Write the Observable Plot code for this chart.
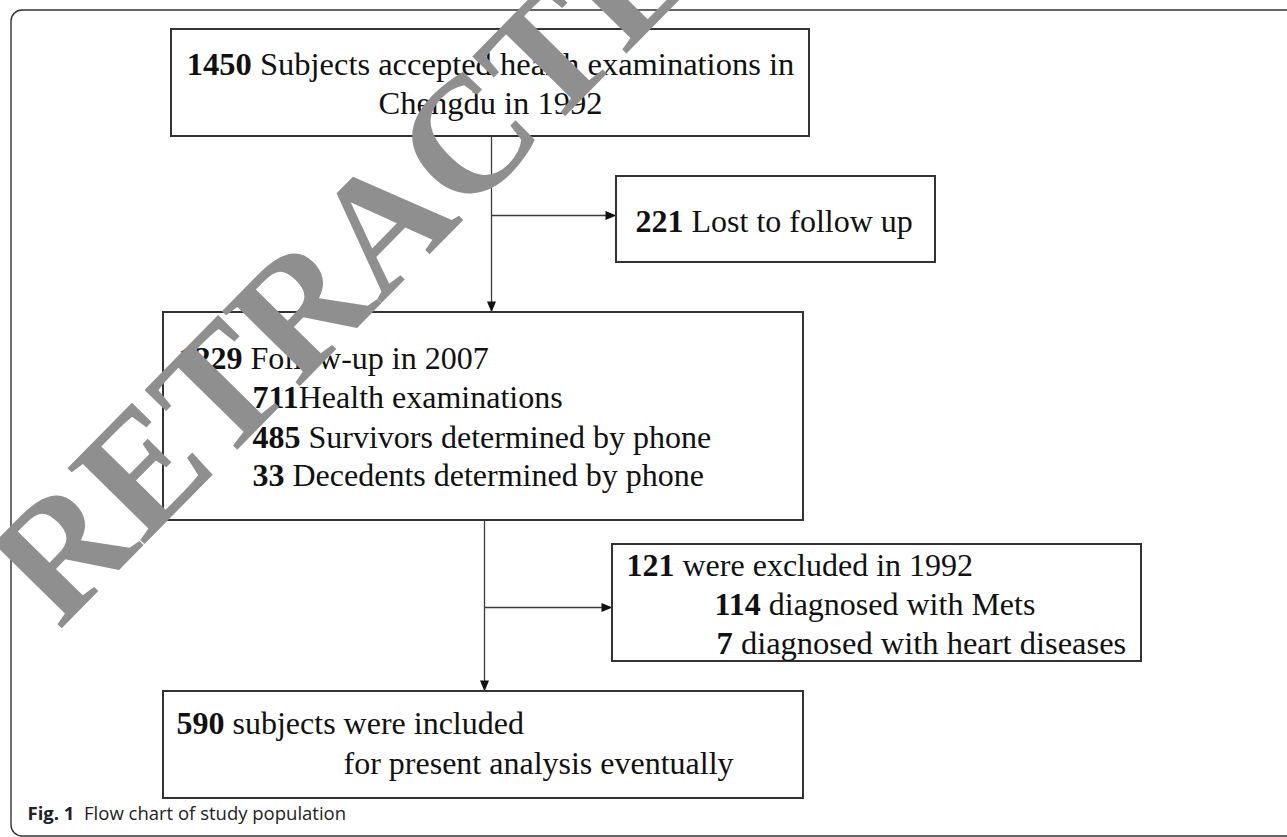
<!DOCTYPE html>
<html>
<head>
<meta charset="utf-8">
<script src="https://cdn.jsdelivr.net/npm/d3@7"></script>
<script src="https://cdn.jsdelivr.net/npm/@observablehq/plot@0.6"></script>
<style>
  html, body { margin: 0; padding: 0; background: #fff; }
  #chart { width: 1287px; height: 837px; overflow: hidden; }
  #chart svg { overflow: hidden; }
</style>
</head>
<body>
<div id="chart"></div>
<script>
// ---------------- data (text content of the flow chart) ----------------
const counts  = ["1450", "", "221", "1229", "711", "485", "33", "121", "114", "7", "590", ""];
const phrases = [
  " Subjects accepted health examinations in",
  "Chengdu in 1992",
  " Lost to follow up",
  " Follow-up in 2007",
  "Health examinations",
  " Survivors determined by phone",
  " Decedents determined by phone",
  " were excluded in 1992",
  " diagnosed with Mets",
  " diagnosed with heart diseases",
  " subjects were included",
  "for present analysis eventually"
];
const captionLabel = "Fig. 1";
const captionText  = "  Flow chart of study population";
const watermarkText = "RETRACTED";

// ---------------- layout (diagram coordinates) ----------------
const boxX1 = [171, 616, 163, 612, 163];
const boxX2 = [809, 935, 803, 1141, 803];
const boxY1 = [29, 176, 312, 544, 691];
const boxY2 = [136, 262, 520, 661, 798];

const lineX = [490, 490, 635, 178, 252, 252, 252, 626, 714, 716, 176, 343];
const lineY = [74, 113, 231, 368, 407, 447, 485, 575, 614, 653, 733, 773];
const lineAlign = ["middle", "middle", "start", "start", "start", "start", "start", "start", "start", "start", "start", "start"];
const lineSize = [32.5, 32.5, 32, 32, 32, 32, 32, 32, 32, 32.5, 32, 32];

const segX1 = [491, 491, 484, 484];
const segY1 = [136, 215, 520, 607];
const segX2 = [491, 606, 484, 602];
const segY2 = [304, 215, 683, 607];

const tipX = [491, 616, 612, 484];
const tipY = [312, 215, 607, 691];
const tipDir = ["down", "right", "right", "down"];

// ---------------- build tables ----------------
const boxes = boxX1.map((x1, i) => ({x1, x2: boxX2[i], y1: boxY1[i], y2: boxY2[i]}));
const lines = counts.map((c, i) => ({bold: c, rest: phrases[i], x: lineX[i], y: lineY[i], anchor: lineAlign[i], size: lineSize[i]}));
const segs = segX1.map((x1, i) => ({x1, y1: segY1[i], x2: segX2[i], y2: segY2[i]}));
const tips = tipX.map((x, i) => ({x, y: tipY[i], dir: tipDir[i]}));
const frame = [{x1: 11, x2: 1310, y1: 10, y2: 836}];
const watermark = [{x: 384, y: 224, t: watermarkText}];
const caption = [{x: 27, y: 819, bold: captionLabel, rest: captionText}];

const tipDown  = {draw(c) { c.moveTo(0, 0); c.lineTo(-4.5, -11); c.lineTo(4.5, -11); c.closePath(); }};
const tipRight = {draw(c) { c.moveTo(0, 0); c.lineTo(-11, -4.5); c.lineTo(-11, 4.5); c.closePath(); }};

const serif = "'Liberation Serif', 'Times New Roman', serif";

const textMarks = [...new Set(lines.map(d => d.anchor + "|" + d.size))].map(key => {
  const [anchor, size] = key.split("|");
  return Plot.text(lines.filter(d => d.anchor === anchor && d.size === +size), {
    x: "x", y: "y", text: d => d.bold + d.rest, textAnchor: anchor, lineAnchor: "bottom",
    fontSize: +size, fontFamily: serif, fill: "#111"
  });
});

const svg = Plot.plot({
  width: 1287,
  height: 837,
  margin: 0,
  x: {domain: [0, 1287], range: [0, 1287], axis: null},
  y: {domain: [0, 837], range: [0, 837], axis: null},
  style: {background: "white"},
  marks: [
    Plot.rect(frame, {x1: "x1", x2: "x2", y1: "y1", y2: "y2", rx: 11, fill: "none", stroke: "#333", strokeWidth: 1.4}),
    Plot.link(segs, {x1: "x1", y1: "y1", x2: "x2", y2: "y2", stroke: "#3c3c3c", strokeWidth: 1.3}),
    Plot.dot(tips.filter(d => d.dir === "down"), {x: "x", y: "y", symbol: tipDown, r: 5, fill: "#111", stroke: "none"}),
    Plot.dot(tips.filter(d => d.dir === "right"), {x: "x", y: "y", symbol: tipRight, r: 5, fill: "#111", stroke: "none"}),
    Plot.rect(boxes, {x1: "x1", x2: "x2", y1: "y1", y2: "y2", fill: "white", stroke: "#333", strokeWidth: 2}),
    ...textMarks,
    Plot.text(watermark, {x: "x", y: "y", text: "t", rotate: -45.5, textAnchor: "middle", lineAnchor: "middle", fontSize: 165, fontWeight: "bold", fontFamily: serif, fill: "#8f8f8f"}),
    Plot.text(caption, {x: "x", y: "y", text: d => d.bold + d.rest, textAnchor: "start", lineAnchor: "bottom", fontSize: 18.5, fontFamily: "'Open Sans', 'Noto Sans', sans-serif", fill: "#222"})
  ]
});

// split each label into a bold number and a regular phrase (still real text)
const rich = new Map();
lines.forEach(l => rich.set(l.bold + l.rest, l));
caption.forEach(l => rich.set(l.bold + l.rest, l));
const ns = "http://www.w3.org/2000/svg";
svg.querySelectorAll("text").forEach(t => {
  const l = rich.get(t.textContent);
  if (!l || !l.bold) return;
  t.textContent = "";
  const b = document.createElementNS(ns, "tspan");
  b.setAttribute("font-weight", "bold");
  b.textContent = l.bold;
  const r = document.createElementNS(ns, "tspan");
  r.textContent = l.rest;
  t.appendChild(b);
  t.appendChild(r);
});

document.getElementById("chart").appendChild(svg);
</script>
</body>
</html>
